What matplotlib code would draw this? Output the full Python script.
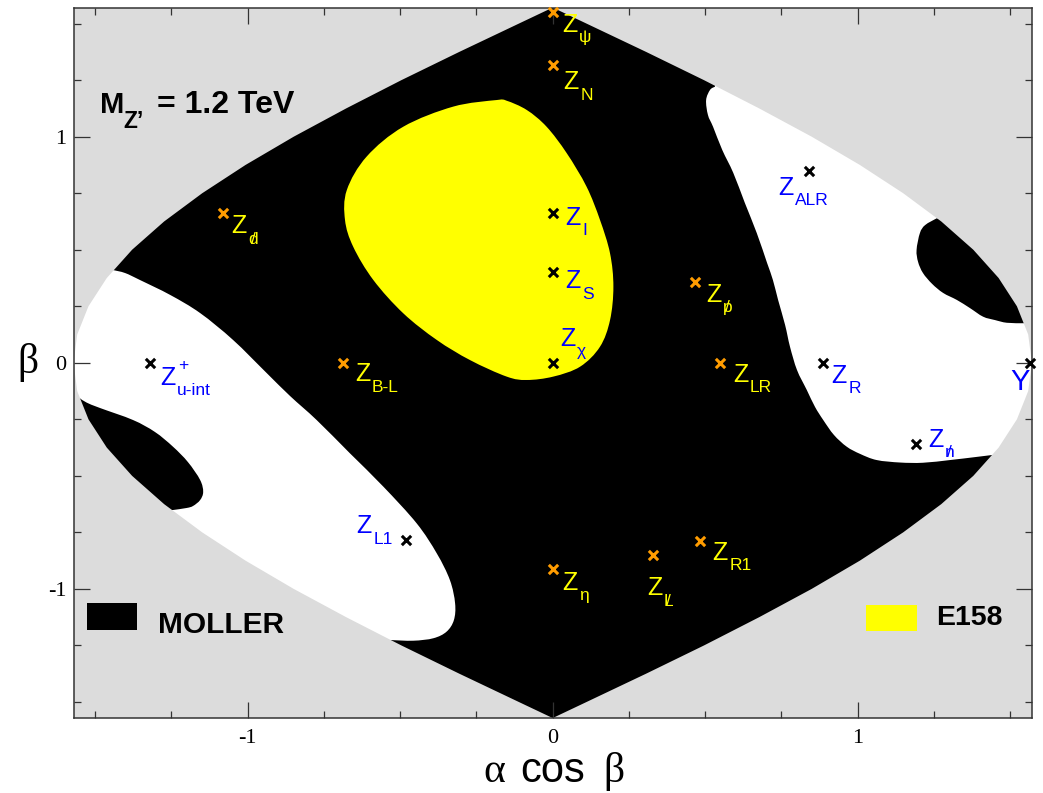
import matplotlib.pyplot as plt
import numpy as np
from matplotlib.patches import PathPatch, Rectangle
from matplotlib.path import Path

plt.rcParams["axes.unicode_minus"] = False

W, H = 1043, 793
PX = 72.0 / 100.0  # points per pixel at dpi 100

SANS = "Liberation Sans"
SERIF = "Liberation Serif"

GRAY = "#dcdcdc"
ORANGE = "#ff9c00"
YELLOW = "#ffff00"
BLUE = "#0000ff"

# half width of the (alpha cos beta, beta) domain, read along beta >= 0
edge_beta = [0.0, 0.125, 0.25, 0.375, 0.5, 0.625, 0.75, 0.875, 1.0, 1.125, 1.25, 1.375, 1.5, 1.571]
edge_half = [1.571, 1.559, 1.522, 1.462, 1.379, 1.274, 1.149, 1.007, 0.849, 0.677, 0.496, 0.306, 0.111, 0.0]

# E158 allowed region (yellow), closed outline
e158_x = [-0.184, -0.326, -0.490, -0.610, -0.675, -0.681, -0.654, -0.588, -0.490, -0.380,
          -0.271, -0.151, -0.085, 0.002, 0.090, 0.155, 0.188, 0.199, 0.188, 0.155,
          0.111, 0.046, -0.020, -0.085, -0.151]
e158_y = [1.162, 1.133, 1.044, 0.912, 0.764, 0.632, 0.513, 0.366, 0.219, 0.101,
          0.012, -0.061, -0.076, -0.061, -0.017, 0.071, 0.189, 0.337, 0.484, 0.632,
          0.779, 0.927, 1.044, 1.118, 1.159]

# borders of the regions MOLLER does not reach (white), edge to edge
white_r_x = [0.532, 0.516, 0.503, 0.509, 0.526, 0.556, 0.592, 0.630, 0.669, 0.703,
             0.722, 0.739, 0.762, 0.778, 0.801, 0.833, 0.860, 0.887, 0.922, 0.964,
             1.008, 1.062, 1.139, 1.214, 1.303, 1.385, 1.439]
white_r_y = [1.221, 1.207, 1.162, 1.096, 1.043, 0.941, 0.840, 0.707, 0.574, 0.441,
             0.366, 0.278, 0.167, 0.071, -0.032, -0.120, -0.195, -0.253, -0.319, -0.371,
             -0.403, -0.430, -0.441, -0.442, -0.430, -0.417, -0.408]
white_l_x = [-1.441, -1.402, -1.353, -1.254, -1.156, -1.048, -0.938, -0.861, -0.774, -0.665,
             -0.555, -0.446, -0.380, -0.337, -0.320, -0.324, -0.348, -0.391, -0.457, -0.533]
white_l_y = [0.410, 0.397, 0.366, 0.300, 0.220, 0.101, -0.045, -0.147, -0.253, -0.400,
             -0.548, -0.710, -0.843, -0.961, -1.064, -1.138, -1.189, -1.218, -1.229, -1.226]

# borders of the MOLLER islands inside the white regions, edge to edge
island_r_x = [1.259, 1.221, 1.204, 1.193, 1.198, 1.214, 1.244, 1.280, 1.325, 1.368,
              1.411, 1.450, 1.489, 1.542]
island_r_y = [0.639, 0.609, 0.574, 0.499, 0.446, 0.397, 0.349, 0.309, 0.278, 0.242,
              0.204, 0.189, 0.177, 0.175]
island_l_x = [-1.550, -1.528, -1.484, -1.376, -1.304, -1.245, -1.196, -1.156, -1.146, -1.156,
              -1.179, -1.200, -1.245]
island_l_y = [-0.157, -0.176, -0.200, -0.253, -0.306, -0.371, -0.439, -0.518, -0.571, -0.607,
              -0.633, -0.642, -0.651]

# Z' models
model_sub = ["ψ", "N", "I", "S", "χ", "d", "p", "LR", "B-L", "R", "", "n", "ALR",
             "u-int", "L1", "η", "L", "R1"]
model_x = [0.0, 0.0, 0.0, 0.0, 0.0, -1.082, 0.467, 0.549, -0.687, 0.885, 1.565, 1.191,
           0.841, -1.320, -0.481, 0.0, 0.330, 0.483]
model_y = [1.553, 1.317, 0.661, 0.403, 0.0, 0.661, 0.359, 0.0, 0.0, 0.0, 0.0, -0.360,
           0.850, 0.0, -0.784, -0.913, -0.851, -0.787]
model_orange = [True, True, False, False, False, True, True, True, True, False, False,
                False, False, False, False, True, True, True]
model_slashed = [False, False, False, False, False, True, True, False, False, False, False,
                 True, False, False, False, False, True, False]

# label placement: offset of the "Z" (left, baseline) from the marker, in pixels (y down)
label_dx = [9.3, 11, 12.7, 12.7, 7.4, 9, 11, 13.3, 12.3, 9, -20, 12.3, -31, 10, -49.3, 10, -6.6, 12.7]
label_dy = [20, 24.3, 11.7, 16.6, -16.7, 20, 20, 19.4, 18.4, 20, 26.7, 2.4, 24.3, 22.3, -6.7, 20.7, 40, 19.3]


def fx(px):
    return px / W


def fy(py):
    return 1 - py / H


def smooth_segments(pts, closed):
    # cubic Bezier pieces running through every read point
    n = len(pts)
    verts, codes = [], []
    for i in range(n if closed else n - 1):
        p0 = pts[i - 1] if (closed or i > 0) else pts[i]
        p1 = pts[i]
        p2 = pts[(i + 1) % n]
        p3 = pts[(i + 2) % n] if (closed or i + 2 < n) else p2
        verts += [p1 + (p2 - p0) / 6.0, p2 - (p3 - p1) / 6.0, p2]
        codes += [Path.CURVE4] * 3
    return verts, codes


def region_path(xs, ys, outside=None):
    pts = np.column_stack([xs, ys])
    closed = outside is None
    verts, codes = smooth_segments(pts, closed)
    verts = [pts[0]] + verts
    codes = [Path.MOVETO] + codes
    if not closed:
        for p in outside:
            verts.append(np.array(p))
            codes.append(Path.LINETO)
    verts.append(pts[0])
    codes.append(Path.CLOSEPOLY)
    return Path(np.array(verts), codes)


def main():
    fig = plt.figure(figsize=(W / 100, H / 100), dpi=100)
    ax = fig.add_axes([fx(73.6), 75 / H, 958.2 / W, 710.4 / H])
    ax.set_facecolor("black")
    ax.set_axisbelow(False)

    beta = np.array(edge_beta)
    half = np.array(edge_half)
    b_full = np.concatenate([-beta[::-1], beta[1:]])
    h_full = np.concatenate([half[::-1], half[1:]])
    dom = np.column_stack([np.concatenate([h_full, -h_full[::-1]]),
                           np.concatenate([b_full, b_full[::-1]])])

    # closing points lie outside the domain and get covered by the gray mask
    ax.add_patch(PathPatch(region_path(white_r_x, white_r_y,
                                       [(1.75, white_r_y[-1]), (1.75, 1.7), (white_r_x[0], 1.7)]),
                           fc="white", ec="none", zorder=1.0))
    ax.add_patch(PathPatch(region_path(white_l_x, white_l_y,
                                       [(white_l_x[-1], -1.7), (-1.75, -1.7), (-1.75, white_l_y[0])]),
                           fc="white", ec="none", zorder=1.0))
    ax.add_patch(PathPatch(region_path(island_r_x, island_r_y,
                                       [(1.75, island_r_y[-1]), (1.75, island_r_y[0])]),
                           fc="black", ec="none", zorder=1.2))
    ax.add_patch(PathPatch(region_path(island_l_x, island_l_y,
                                       [(-1.75, island_l_y[-1]), (-1.75, island_l_y[0])]),
                           fc="black", ec="none", zorder=1.2))
    ax.add_patch(PathPatch(region_path(e158_x, e158_y), fc=YELLOW, ec="none", zorder=1.4))

    # gray outside of the physical domain
    outer = [(-2, -2), (2, -2), (2, 2), (-2, 2), (-2, -2)]
    hole = [tuple(p) for p in dom[::-1]] + [tuple(dom[-1])]
    verts = outer + hole
    codes = ([Path.MOVETO] + [Path.LINETO] * 3 + [Path.CLOSEPOLY]
             + [Path.MOVETO] + [Path.LINETO] * (len(hole) - 2) + [Path.CLOSEPOLY])
    ax.add_patch(PathPatch(Path(verts, codes), fc=GRAY, ec="none", zorder=1.9))

    ax.set_xlim(-1.5708, 1.5708)
    ax.set_ylim(-1.5708, 1.5708)
    ax.set_xticks([-1, 0, 1])
    ax.set_yticks([-1, 0, 1])
    ax.set_xticks(np.arange(-1.5, 1.6, 0.25), minor=True)
    ax.set_yticks(np.arange(-1.5, 1.6, 0.25), minor=True)
    ax.set_xticklabels(["-1", "0", "1"])
    ax.set_yticklabels(["-1", "0", "1"])
    ax.tick_params(which="both", direction="in", top=True, right=True, color="#333333", width=0.9)
    ax.tick_params(which="major", length=11.5, labelsize=16)
    ax.tick_params(which="minor", length=5)
    ax.tick_params(axis="x", which="major", pad=8)
    ax.tick_params(axis="y", which="major", pad=5)
    for lab in ax.get_xticklabels() + ax.get_yticklabels():
        lab.set_family(SERIF)
    for sp in ax.spines.values():
        sp.set_color("#333333")
        sp.set_linewidth(1.1)

    # model markers and names
    for i in range(len(model_x)):
        mcol = ORANGE if model_orange[i] else "black"
        tcol = YELLOW if model_orange[i] else BLUE
        ax.scatter(model_x[i], model_y[i], marker="x", s=45, linewidths=2.2, color=mcol,
                   zorder=5, clip_on=False)
        dx, dy = label_dx[i], label_dy[i]
        kw = dict(xycoords="data", textcoords="offset points", ha="left", va="baseline",
                  color=tcol, family=SANS, zorder=6, annotation_clip=False)
        if model_sub[i] == "":
            ax.annotate("Y", (model_x[i], model_y[i]), xytext=(dx * PX, -dy * PX), fontsize=21, **kw)
            continue
        ax.annotate("Z", (model_x[i], model_y[i]), xytext=(dx * PX, -dy * PX), fontsize=18, **kw)
        sx, sy = dx + 16.5, dy + 10.3
        ax.annotate(model_sub[i], (model_x[i], model_y[i]), xytext=(sx * PX, -sy * PX),
                    fontsize=12.5, **kw)
        if model_slashed[i]:
            ax.annotate("/", (model_x[i], model_y[i]), xytext=((sx + 2.6) * PX, -sy * PX),
                        fontsize=12.5, **kw)
        if model_sub[i] == "u-int":
            ax.annotate("+", (model_x[i], model_y[i]), xytext=((dx + 18) * PX, -(dy - 15.3) * PX),
                        fontsize=12.5, **kw)

    # mass label
    fig.text(fx(100), fy(113.3), "M", fontsize=21, fontweight="bold", family=SANS, va="baseline")
    fig.text(fx(123.5), fy(128.3), "Z\u2019", fontsize=16.5, fontweight="bold", family=SANS, va="baseline")
    fig.text(fx(157), fy(113.3), "= 1.2 TeV", fontsize=23, fontweight="bold", family=SANS,
             va="baseline")

    # legend boxes
    fig.patches.append(Rectangle((fx(86.7), fy(630)), fx(137.3) - fx(86.7), fy(603.3) - fy(630),
                                 transform=fig.transFigure, fc="black", ec="none"))
    fig.text(fx(157.5), fy(633.3), "MOLLER", fontsize=21.5, fontweight="bold", family=SANS, va="baseline")
    fig.patches.append(Rectangle((fx(866), fy(631)), fx(916.7) - fx(866), fy(605) - fy(631),
                                 transform=fig.transFigure, fc=YELLOW, ec="none"))
    fig.text(fx(936.5), fy(625), "E158", fontsize=20.5, fontweight="bold", family=SANS, va="baseline")

    # axis titles
    fig.text(fx(483), fy(781.7), "α", fontsize=30, family=SERIF, va="baseline")
    fig.text(fx(520), fy(781.7), "cos", fontsize=30, family=SANS, va="baseline")
    fig.text(fx(603), fy(781.7), "β", fontsize=30, family=SERIF, va="baseline")
    fig.text(fx(17), fy(372.7), "β", fontsize=30, family=SERIF, va="baseline")

    fig.savefig("out.png", dpi=100)


if __name__ == "__main__":
    main()
